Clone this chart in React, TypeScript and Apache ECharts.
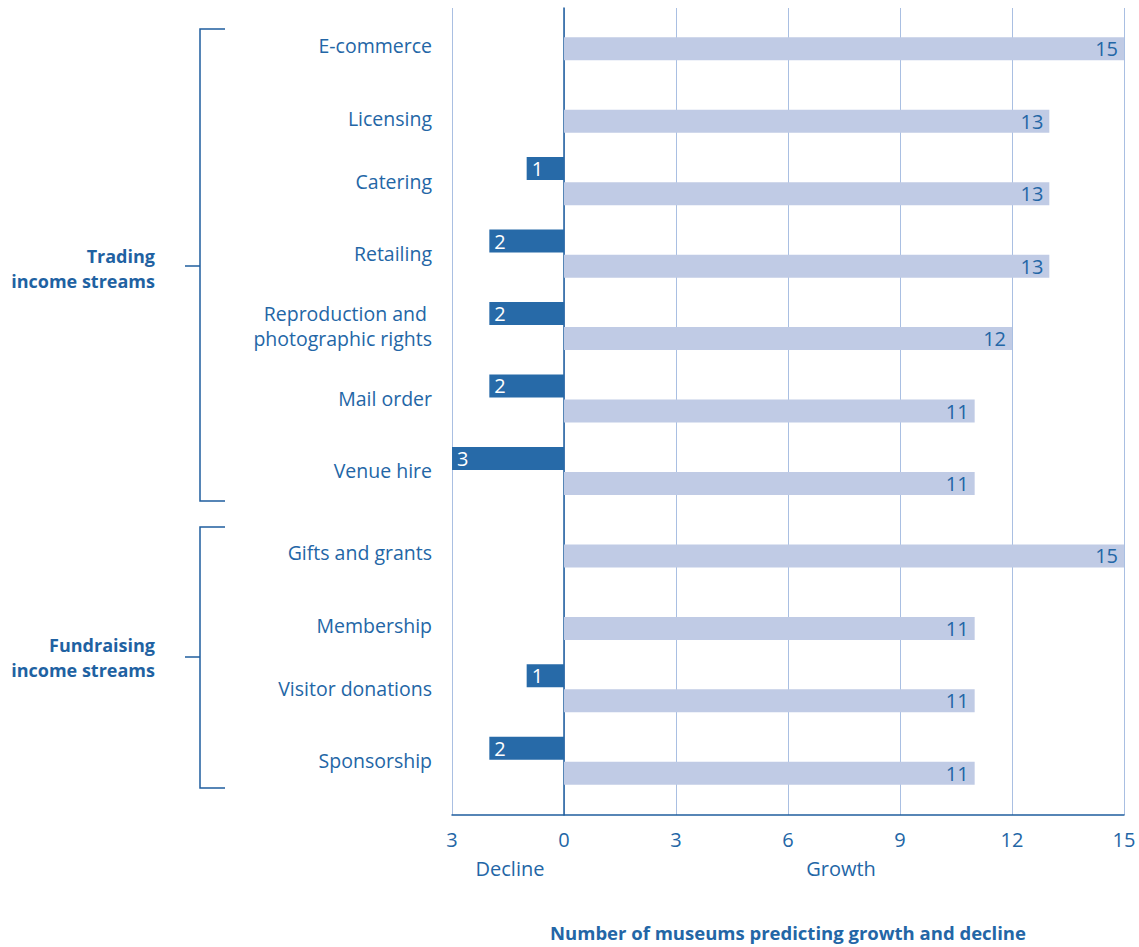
import React, { useEffect, useRef } from "react";
import * as echarts from "echarts";

const categories = [
  "E-commerce",
  "Licensing",
  "Catering",
  "Retailing",
  "Reproduction and \nphotographic rights",
  "Mail order",
  "Venue hire",
  "Gifts and grants",
  "Membership",
  "Visitor donations",
  "Sponsorship",
];
const growth = [15, 13, 13, 13, 12, 11, 11, 15, 11, 11, 11];
const decline = [0, 0, 1, 2, 2, 2, 3, 0, 0, 1, 2];
const groupLabels = ["Trading\nincome streams", "Fundraising\nincome streams"];
const sideLabels = ["Decline", "Growth"];
const axisTitle = "Number of museums predicting growth and decline";

const BLUE = "#2366a6";
const DARK = "#1f5e9e";
const FONT = "'Open Sans', 'Noto Sans', sans-serif";

export default function App() {
  const ref = useRef<HTMLDivElement>(null);
  useEffect(() => {
    const chart = echarts.init(ref.current!, null, { renderer: "svg" });
    const option: any = {
      animation: false,
      backgroundColor: "#ffffff",
      grid: [
        { left: 452, right: 15, top: 8, bottom: 129 },
        { left: 452, right: 15, top: -1, bottom: 150 },
      ],
      xAxis: [
        {
          gridIndex: 0,
          type: "value",
          min: -3,
          max: 15,
          interval: 3,
          position: "bottom",
          axisLine: { show: true, onZero: false, lineStyle: { color: DARK, width: 1.5 } },
          axisTick: { show: false },
          axisLabel: {
            formatter: (v: number) => String(Math.abs(v)),
            color: BLUE,
            fontSize: 20,
            fontFamily: FONT,
            margin: 14,
            showMinLabel: true,
            showMaxLabel: true,
          },
          splitLine: { show: true, lineStyle: { color: "#a9bfe2", width: 1 } },
          name: axisTitle,
          nameLocation: "middle",
          nameGap: 108,
          nameTextStyle: { color: BLUE, fontWeight: "bold", fontSize: 18.5, fontFamily: FONT },
        },
        { gridIndex: 1, type: "value", min: -3, max: 15, interval: 3, show: false },
      ],
      yAxis: [
        {
          gridIndex: 0,
          type: "value",
          min: 0,
          max: 1,
          axisLine: { show: true, onZero: true, lineStyle: { color: DARK, width: 1.5 } },
          axisLabel: { show: false },
          axisTick: { show: false },
          splitLine: { show: false },
        },
        {
          gridIndex: 1,
          type: "category",
          inverse: true,
          data: categories,
          axisLine: { show: false, onZero: false },
          axisTick: { show: false },
          axisLabel: {
            interval: 0,
            margin: 20,
            color: BLUE,
            fontSize: 19.5,
            fontFamily: FONT,
            lineHeight: 25,
            align: "right",
            formatter: (v: string, i: number) => (decline[i] === 0 ? "{s|}\n" + v : v),
            rich: { s: { lineHeight: 19, fontSize: 10 } },
          },
        },
      ],
      series: [
        {
          name: sideLabels[0],
          type: "bar",
          xAxisIndex: 1,
          yAxisIndex: 1,
          data: decline.map((d) => (d === 0 ? null : -d)),
          barWidth: 23,
          barGap: "9%",
          itemStyle: { color: "#276aa8" },
          label: {
            show: true,
            position: "insideLeft",
            distance: 5,
            color: "#ffffff",
            fontSize: 20,
            fontFamily: FONT,
            formatter: (p: any) => String(Math.abs(p.value)),
          },
        },
        {
          name: sideLabels[1],
          type: "bar",
          xAxisIndex: 1,
          yAxisIndex: 1,
          data: growth,
          barWidth: 23,
          barGap: "9%",
          itemStyle: { color: "#c0cbe5" },
          label: {
            show: true,
            position: "insideRight",
            distance: 6,
            color: BLUE,
            fontSize: 20,
            fontFamily: FONT,
          },
        },
      ],
      graphic: [
        {
          type: "polyline",
          shape: { points: [[225, 29], [200, 29], [200, 501], [225, 501]] },
          style: { stroke: DARK, lineWidth: 1.5, fill: null },
        },
        {
          type: "line",
          shape: { x1: 185, y1: 266, x2: 200, y2: 266 },
          style: { stroke: DARK, lineWidth: 1.5 },
        },
        {
          type: "polyline",
          shape: { points: [[225, 527], [200, 527], [200, 788], [225, 788]] },
          style: { stroke: DARK, lineWidth: 1.5, fill: null },
        },
        {
          type: "line",
          shape: { x1: 185, y1: 657, x2: 200, y2: 657 },
          style: { stroke: DARK, lineWidth: 1.5 },
        },
        {
          type: "text",
          x: 155,
          y: 268.5,
          style: {
            text: groupLabels[0],
            textAlign: "right",
            textVerticalAlign: "middle",
            fontSize: 18,
            fontWeight: "bold",
            fontFamily: FONT,
            lineHeight: 25,
            fill: "#1f62a2",
          },
        },
        {
          type: "text",
          x: 155,
          y: 657.5,
          style: {
            text: groupLabels[1],
            textAlign: "right",
            textVerticalAlign: "middle",
            fontSize: 18,
            fontWeight: "bold",
            fontFamily: FONT,
            lineHeight: 25,
            fill: "#1f62a2",
          },
        },
        {
          type: "text",
          x: 510,
          y: 868,
          style: {
            text: sideLabels[0],
            textAlign: "center",
            textVerticalAlign: "middle",
            fontSize: 20,
            fontFamily: FONT,
            fill: BLUE,
          },
        },
        {
          type: "text",
          x: 841,
          y: 868,
          style: {
            text: sideLabels[1],
            textAlign: "center",
            textVerticalAlign: "middle",
            fontSize: 20,
            fontFamily: FONT,
            fill: BLUE,
          },
        },
      ],
    };
    chart.setOption(option);
    return () => chart.dispose();
  }, []);
  return (
    <div
      ref={ref}
      style={{ position: "absolute", left: 0, top: 0, width: 1139, height: 947 }}
    />
  );
}
